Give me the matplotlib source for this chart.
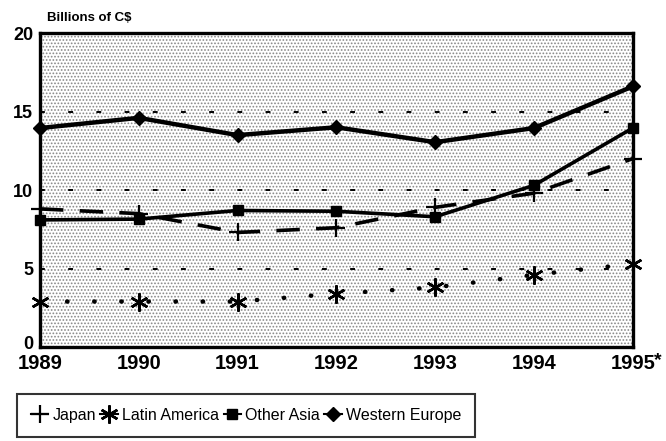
import numpy as np
import matplotlib
matplotlib.use("Agg")
import matplotlib.pyplot as plt
import matplotlib.transforms as mtransforms
from matplotlib.patches import Rectangle

# data (billions of C$)
years = [1989, 1990, 1991, 1992, 1993, 1994, 1995]
year_labels = ['1989', '1990', '1991', '1992', '1993', '1994', '1995']
japan = [8.8, 8.5, 7.3, 7.6, 8.9, 9.8, 12.0]
latin_america = [2.9, 2.9, 2.9, 3.4, 3.8, 4.6, 5.3]
other_asia = [8.1, 8.15, 8.7, 8.65, 8.3, 10.3, 13.95]
western_europe = [13.95, 14.6, 13.5, 14.0, 13.05, 13.95, 16.6]
yticks = [0, 5, 10, 15, 20]

plt.rcParams['font.family'] = ['Liberation Sans', 'DejaVu Sans']
plt.rcParams['hatch.linewidth'] = 0.8

fig = plt.figure(figsize=(6.66, 4.41), dpi=100)
ax = fig.add_axes([0.060, 0.213, 0.890, 0.712])

# dotted screen background
ax.add_patch(Rectangle((0, 0), 1, 1, transform=ax.transAxes, facecolor='white',
                       edgecolor='#888888', linewidth=0, hatch='.....', zorder=0))

# sparse dashed gridlines
for v in yticks[1:-1]:
    ax.axhline(v, color='black', lw=1.4, ls=(0, (2.5, 12)), zorder=1)

ax.plot(years, japan, color='black', lw=2.6, ls=(0, (6.5, 4.5)), marker='+',
        markersize=13, markeredgewidth=1.6, label='Japan', zorder=3, clip_on=False)
ax.plot(years, latin_america, color='black', lw=3.2, ls=(0, (0.1, 6)),
        dash_capstyle='round', marker=(6, 2, 0), markersize=13,
        markeredgewidth=1.8, label='Latin America', zorder=3, clip_on=False)
ax.plot(years, other_asia, color='black', lw=2.6, marker='s', markersize=7,
        label='Other Asia', zorder=3, clip_on=False)
ax.plot(years, western_europe, color='black', lw=3.2, marker='D', markersize=7,
        label='Western Europe', zorder=3, clip_on=False)

ax.set_xlim(1989, 1995)
ax.set_ylim(0, 20)
ax.set_xticks(years)
ax.set_xticklabels(year_labels, fontsize=14.5, fontweight='bold')
ax.set_yticks(yticks)
ax.set_yticklabels([str(t) for t in yticks], fontsize=13, fontweight='bold')
ax.tick_params(axis='x', length=0, pad=5)
ax.tick_params(axis='y', length=0, pad=5)
for s in ax.spines.values():
    s.set_linewidth(2.4)
    s.set_zorder(4)

# lift the "0" a little so it sits just above "1989"
zero_lbl = ax.get_yticklabels()[0]
zero_lbl.set_transform(zero_lbl.get_transform() +
                       mtransforms.ScaledTranslation(0, 3 / 72, fig.dpi_scale_trans))

ax.text(1995.22, -0.3, '*', fontsize=14, fontweight='bold', va='top', ha='left')
fig.text(0.070, 0.953, 'Billions of C$', fontsize=9.5, fontweight='bold',
         ha='left', va='baseline')

leg = fig.legend(loc='lower left', bbox_to_anchor=(0.026, 0.01, 0.687, 0.095),
                 mode='expand', ncol=4, fontsize=11.5, frameon=True, fancybox=False,
                 handlelength=1.1, handletextpad=0.25, columnspacing=0.6,
                 borderaxespad=0, borderpad=0.85)
leg.get_frame().set_edgecolor('black')
leg.get_frame().set_linewidth(1.5)
for line in leg.get_lines():
    line.set_linestyle('-')
    line.set_linewidth(1.5)

fig.savefig('out.png', dpi=100)
